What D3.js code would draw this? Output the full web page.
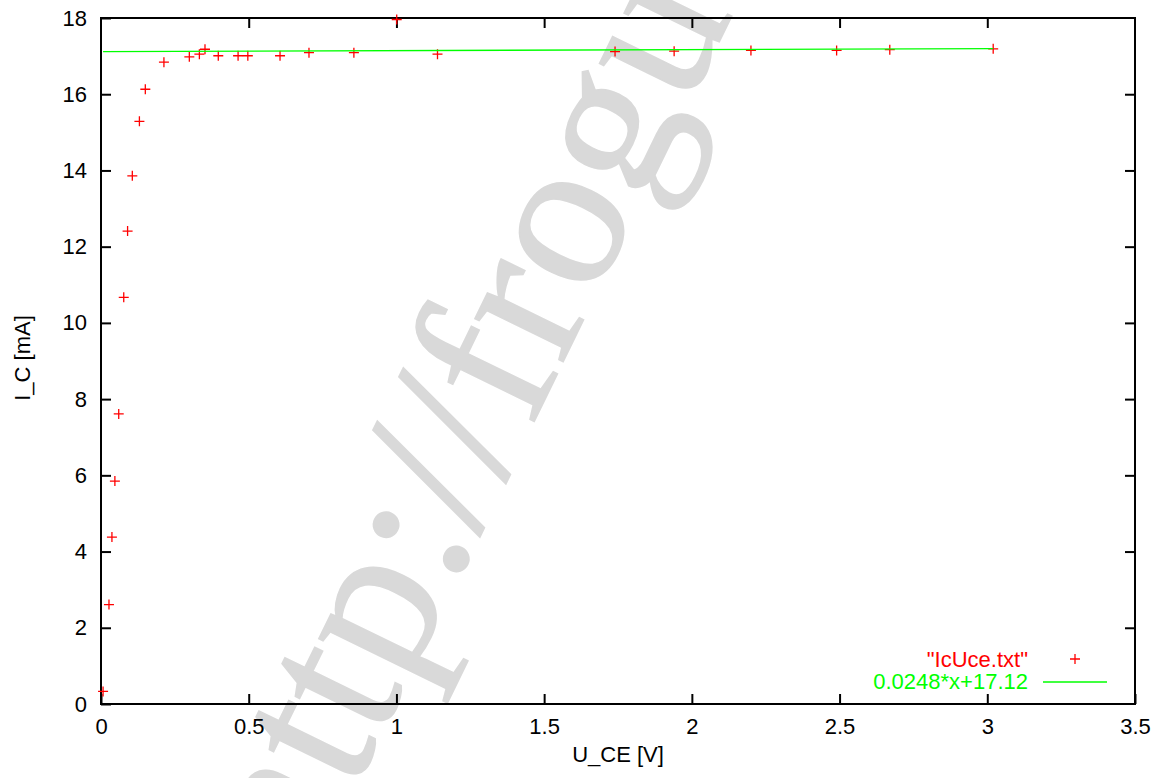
<!DOCTYPE html>
<html>
<head>
<meta charset="utf-8">
<script src="https://cdn.jsdelivr.net/npm/d3@7"></script>
<style>
  html, body { margin: 0; padding: 0; background: #fff; }
  text { font-family: "Liberation Sans", Arial, sans-serif; }
</style>
</head>
<body>
<div id="chart"></div>
<script>
// measured data (IcUce.txt)
const uce = [0.007, 0.027, 0.037, 0.047, 0.060, 0.077, 0.090, 0.106, 0.130, 0.150,
             0.213, 0.299, 0.333, 0.352, 0.397, 0.464, 0.497, 0.606, 0.704, 0.856,
             1.001, 1.139, 1.74, 1.94, 2.20, 2.49, 2.67, 3.02];
const ic = [0.33, 2.61, 4.38, 5.85, 7.61, 10.67, 12.41, 13.86, 15.29, 16.13,
            16.84, 16.98, 17.05, 17.18, 17.01, 17.01, 17.01, 17.01, 17.09, 17.09,
            17.96, 17.05, 17.12, 17.13, 17.15, 17.15, 17.17, 17.19];
// fit result
const fitSlope = 0.0248;
const fitOffset = 17.12;
const fitRange = [0.007, 3.02];
// axes
const xTicks = [0, 0.5, 1, 1.5, 2, 2.5, 3, 3.5];
const yTicks = [0, 2, 4, 6, 8, 10, 12, 14, 16, 18];
const legendLabels = ['"IcUce.txt"', "0.0248*x+17.12"];

const width = 1161;
const height = 778;
const margin = ({top: 18, right: 26, bottom: 74, left: 101});
const tickLen = 10;

const x = d3.scaleLinear([0, 3.5], [margin.left, width - margin.right]);
const y = d3.scaleLinear([0, 18], [height - margin.bottom, margin.top]);

const svg = d3.select("#chart")
    .append("svg")
    .attr("width", width)
    .attr("height", height)
    .attr("viewBox", [0, 0, width, height]);

// watermark behind everything
svg.append("text")
    .attr("transform", "translate(306,889) rotate(-64)")
    .style("font-family", '"Liberation Serif", "Times New Roman", serif')
    .style("font-size", "214px")
    .attr("fill", "#d9d9d9")
    .attr("stroke", "#d9d9d9")
    .attr("stroke-width", 1.5)
    .text("http://frogu");

// axes, ticks inward on all four sides
const font = "22px 'Liberation Sans', Arial, sans-serif";

svg.append("g")
    .attr("transform", `translate(0,${height - margin.bottom})`)
    .call(d3.axisBottom(x).tickValues(xTicks).tickSize(-tickLen).tickPadding(14).tickFormat(d3.format("")))
    .call(g => g.select(".domain").remove())
    .call(g => g.selectAll("line").attr("stroke-width", 2))
    .call(g => g.selectAll("text").style("font", font).attr("fill", "#000"));

svg.append("g")
    .attr("transform", `translate(0,${margin.top})`)
    .call(d3.axisTop(x).tickValues(xTicks.slice(1, -1)).tickSize(-tickLen).tickFormat(""))
    .call(g => g.select(".domain").remove())
    .call(g => g.selectAll("line").attr("stroke-width", 2));

svg.append("g")
    .attr("transform", `translate(${margin.left},0)`)
    .call(d3.axisLeft(y).tickValues(yTicks).tickSize(-tickLen).tickPadding(14))
    .call(g => g.select(".domain").remove())
    .call(g => g.selectAll("line").attr("stroke-width", 2))
    .call(g => g.selectAll("text").style("font", font).attr("fill", "#000"));

svg.append("g")
    .attr("transform", `translate(${width - margin.right},0)`)
    .call(d3.axisRight(y).tickValues(yTicks.slice(1, -1)).tickSize(-tickLen).tickFormat(""))
    .call(g => g.select(".domain").remove())
    .call(g => g.selectAll("line").attr("stroke-width", 2));

// frame
svg.append("rect")
    .attr("x", margin.left)
    .attr("y", margin.top)
    .attr("width", width - margin.left - margin.right)
    .attr("height", height - margin.top - margin.bottom)
    .attr("fill", "none")
    .attr("stroke", "#000")
    .attr("stroke-width", 2);

// axis titles
svg.append("text")
    .attr("x", x(1.75))
    .attr("y", 762)
    .attr("text-anchor", "middle")
    .style("font", font)
    .text("U_CE [V]");

svg.append("text")
    .attr("transform", `translate(30,${y(9) - 3}) rotate(-90)`)
    .attr("text-anchor", "middle")
    .style("font", font)
    .text("I_C [mA]");

// data points as "+" crosses
const cross = 5;
const data = uce.map((u, i) => [u, ic[i]]);
svg.append("g")
    .attr("stroke", "#ff0000")
    .attr("stroke-width", 1.3)
    .selectAll("path")
    .data(data)
    .join("path")
        .attr("d", ([u, i]) => `M${x(u) - cross},${y(i)}h${2 * cross}M${x(u)},${y(i) - cross}v${2 * cross}`);

// fit line
const fit = fitRange.map(u => [u, fitSlope * u + fitOffset]);
svg.append("path")
    .datum(fit)
    .attr("fill", "none")
    .attr("stroke", "#00ff00")
    .attr("stroke-width", 1.3)
    .attr("d", d3.line().x(d => x(d[0])).y(d => y(d[1])));

// legend
const legend = svg.append("g").style("font", font);
legend.append("text")
    .attr("x", 1028).attr("y", 667)
    .attr("text-anchor", "end")
    .attr("fill", "#ff0000")
    .text(legendLabels[0]);
legend.append("path")
    .attr("d", `M${1075 - cross},659h${2 * cross}M1075,${659 - cross}v${2 * cross}`)
    .attr("stroke", "#ff0000")
    .attr("stroke-width", 1.3);
legend.append("text")
    .attr("x", 1028).attr("y", 689)
    .attr("text-anchor", "end")
    .attr("fill", "#00ff00")
    .text(legendLabels[1]);
legend.append("line")
    .attr("x1", 1043).attr("x2", 1107)
    .attr("y1", 682).attr("y2", 682)
    .attr("stroke", "#00ff00")
    .attr("stroke-width", 1.3);
</script>
</body>
</html>
